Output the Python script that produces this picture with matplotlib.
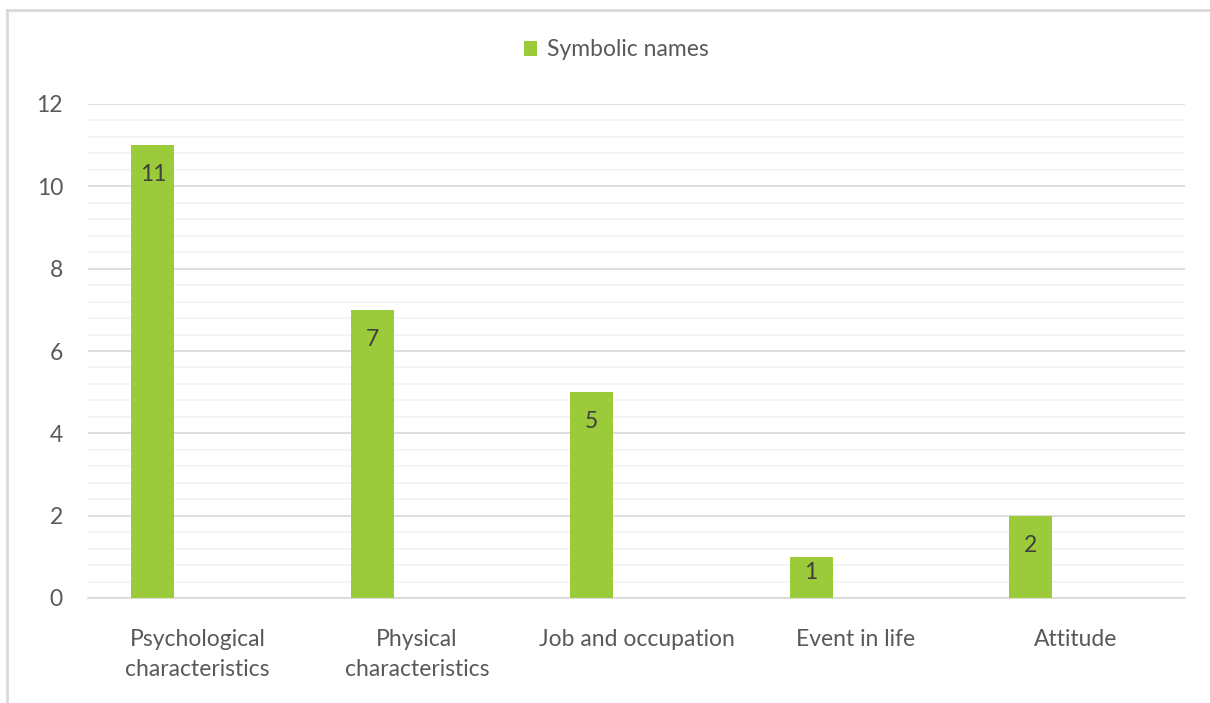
import matplotlib
matplotlib.use('Agg')
import matplotlib.pyplot as plt
from matplotlib.lines import Line2D
from matplotlib.ticker import MultipleLocator

categories = ['Psychological\ncharacteristics', 'Physical\ncharacteristics',
              'Job and occupation', 'Event in life', 'Attitude']
values = [11, 7, 5, 1, 2]
series_name = 'Symbolic names'

green = '#9BCB3B'
text_gray = '#595959'

plt.rcParams['font.family'] = ['Lato', 'DejaVu Sans']

fig = plt.figure(figsize=(12.1, 7.03), dpi=100)
ax = fig.add_axes([88 / 1210, 1 - 598 / 703, (1185 - 88) / 1210, (598 - 104) / 703])

x = list(range(len(categories)))
bars = ax.bar([i - 0.204 for i in x], values, width=0.196, color=green, label=series_name, zorder=3)

for b, v in zip(bars, values):
  ypos = max(v - 0.72, v * 0.63)
  ax.text(b.get_x() + b.get_width() / 2, ypos, str(v), ha='center', va='center',
          fontsize=16.5, color='#404040', zorder=4)

ax.set_xlim(-0.5, len(categories) - 0.5)
ax.set_ylim(0, 12)
ax.yaxis.set_major_locator(MultipleLocator(2))
ax.yaxis.set_minor_locator(MultipleLocator(0.4))
ax.grid(which='major', axis='y', color='#d9d9d9', linewidth=1.2, zorder=0)
ax.grid(which='minor', axis='y', color='#f2f2f2', linewidth=1.2, zorder=0)
ax.set_axisbelow(True)

for s in ['top', 'right', 'left']:
  ax.spines[s].set_visible(False)
ax.spines['bottom'].set_color('#d9d9d9')
ax.spines['bottom'].set_linewidth(1.2)

ax.set_xticks(x)
ax.set_xticklabels(categories, fontsize=16.5, color=text_gray, linespacing=1.55)
ax.tick_params(axis='x', length=0, pad=22)
ax.tick_params(axis='y', which='both', length=0, pad=18, labelsize=16.5, labelcolor=text_gray)

fig.legend(loc='center', bbox_to_anchor=(616 / 1210, 1 - 50 / 703), frameon=False,
           fontsize=16.5, labelcolor=text_gray, handlelength=0.6, handleheight=0.6,
           handletextpad=0.4)

# outer chart border (only top and left edges visible in the crop)
fig.add_artist(Line2D([7 / 1210, 1], [1 - 10 / 703, 1 - 10 / 703], transform=fig.transFigure,
                      color='#d9d9d9', linewidth=2))
fig.add_artist(Line2D([7 / 1210, 7 / 1210], [0, 1 - 10 / 703], transform=fig.transFigure,
                      color='#d9d9d9', linewidth=2))

fig.savefig('out.png', dpi=100)
